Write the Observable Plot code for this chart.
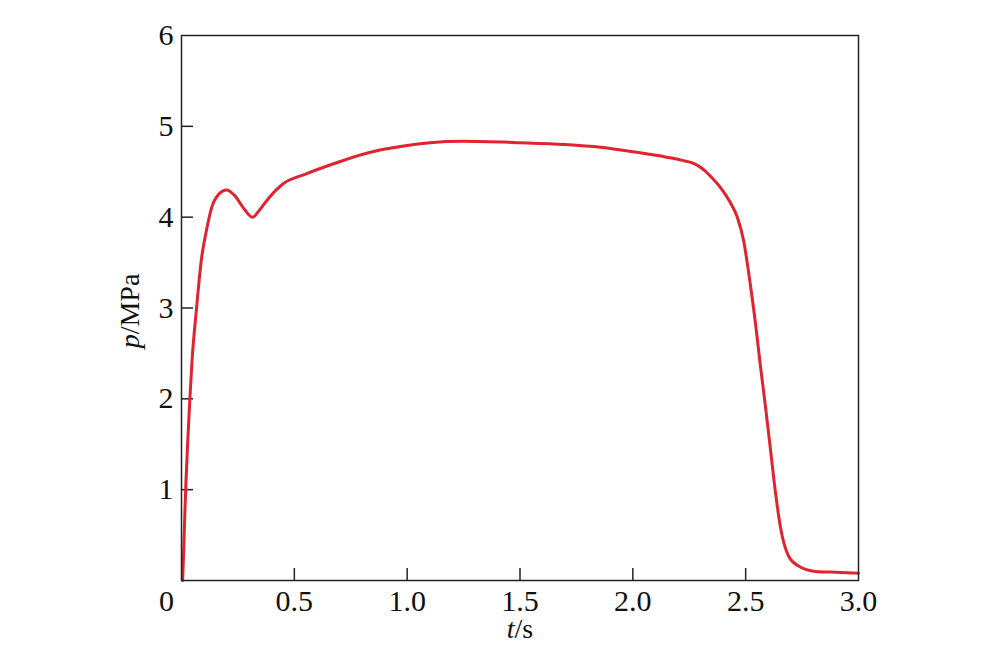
<!DOCTYPE html>
<html>
<head>
<meta charset="utf-8">
<script src="https://cdn.jsdelivr.net/npm/d3@7"></script>
<script src="https://cdn.jsdelivr.net/npm/@observablehq/plot@0.6"></script>
<style>
  html, body { margin: 0; padding: 0; background: #fff; }
  #chart svg { display: block; }
</style>
</head>
<body>
<div id="chart"></div>
<script>
// Data
const timeS = [0.005, 0.010, 0.015, 0.020, 0.028, 0.037, 0.047, 0.066, 0.089, 0.111, 0.133, 0.164, 0.200, 0.235, 0.275, 0.315, 0.346, 0.390, 0.452, 0.55, 0.70, 0.80, 0.88, 1.00, 1.10, 1.245, 1.50, 1.70, 1.856, 2.00, 2.15, 2.22, 2.26, 2.29, 2.32, 2.35, 2.39, 2.43, 2.463, 2.491, 2.52, 2.543, 2.565, 2.587, 2.61, 2.632, 2.654, 2.69, 2.734, 2.81, 2.90, 3.00];
const pressureMPa = [0.00, 0.35, 0.75, 1.10, 1.55, 2.00, 2.43, 2.98, 3.55, 3.86, 4.10, 4.25, 4.30, 4.24, 4.10, 4.00, 4.08, 4.22, 4.37, 4.475, 4.61, 4.69, 4.74, 4.79, 4.82, 4.835, 4.82, 4.80, 4.77, 4.72, 4.66, 4.625, 4.60, 4.565, 4.51, 4.435, 4.32, 4.17, 4.00, 3.74, 3.27, 2.84, 2.37, 1.93, 1.44, 0.97, 0.59, 0.27, 0.16, 0.10, 0.09, 0.08];
const xTicks = [0.5, 1.0, 1.5, 2.0, 2.5, 3.0];
const xInnerTicks = [0.5, 1.0, 1.5, 2.0, 2.5];
const yTicks = [1, 2, 3, 4, 5, 6];
const yInnerTicks = [1, 2, 3, 4, 5];
const xOriginLabel = ["0"];

const data = timeS.map((t, i) => ({t, p: pressureMPa[i]}));
const font = "'Liberation Serif', 'Times New Roman', serif";

const chart = Plot.plot({
  width: 1000,
  height: 653,
  marginLeft: 181,
  marginRight: 142,
  marginTop: 35,
  marginBottom: 73,
  style: {fontFamily: font, background: "#fff"},
  x: {domain: [0, 3], label: null},
  y: {domain: [0, 6], label: null},
  marks: [
    Plot.axisX({ticks: xTicks, tickSize: 0, tickPadding: 9, fontSize: 30, tickFormat: d3.format(".1f"), label: null, fill: "#111"}),
    Plot.axisY({ticks: yTicks, tickSize: 0, tickPadding: 8, fontSize: 30, tickFormat: d3.format("d"), label: null, fill: "#111"}),
    Plot.text(xOriginLabel, {x: () => 0, frameAnchor: "bottom", text: d => d, dx: -15, dy: 9, lineAnchor: "top", fontSize: 30, fill: "#111"}),
    Plot.ruleX(xInnerTicks, {x: d => d, y1: 0, y2: 0, insetTop: -12, stroke: "#222", strokeWidth: 1.5}),
    Plot.ruleY(yInnerTicks, {y: d => d, x1: 0, x2: 0, insetRight: -12, stroke: "#222", strokeWidth: 1.5}),
    Plot.line(data, {x: "t", y: "p", curve: "monotone-x", stroke: "#e0232e", strokeWidth: 3}),
    Plot.frame({stroke: "#222", strokeWidth: 1.5})
  ]
});

const svg = d3.select(chart);
// x-axis title: t/s (t italic)
const xt = svg.append("text")
  .attr("x", 520).attr("y", 638)
  .attr("text-anchor", "middle")
  .attr("font-family", font).attr("font-size", 28).attr("fill", "#111");
xt.append("tspan").attr("font-style", "italic").text("t");
xt.append("tspan").text("/s");
// y-axis title: p/MPa (p italic), rotated
const yt = svg.append("text")
  .attr("transform", "translate(139,311) rotate(-90)")
  .attr("text-anchor", "middle")
  .attr("font-family", font).attr("font-size", 28).attr("fill", "#111");
yt.append("tspan").attr("font-style", "italic").text("p");
yt.append("tspan").text("/MPa");

document.getElementById("chart").appendChild(chart);
</script>
</body>
</html>
